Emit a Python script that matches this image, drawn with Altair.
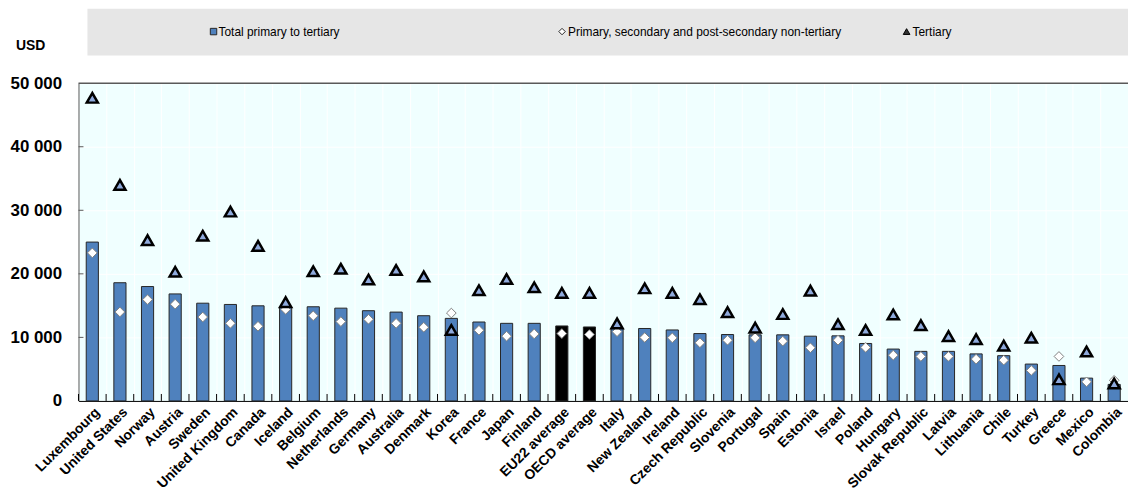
import altair as alt
import pandas as pd

countries = ["Luxembourg", "United States", "Norway", "Austria", "Sweden", "United Kingdom",
             "Canada", "Iceland", "Belgium", "Netherlands", "Germany", "Australia", "Denmark",
             "Korea", "France", "Japan", "Finland", "EU22 average", "OECD average", "Italy",
             "New Zealand", "Ireland", "Czech Republic", "Slovenia", "Portugal", "Spain",
             "Estonia", "Israel", "Poland", "Hungary", "Slovak Republic", "Latvia", "Lithuania",
             "Chile", "Turkey", "Greece", "Mexico", "Colombia"]
total = [25000, 18600, 18000, 16840, 15380, 15180, 14970, 14700, 14820, 14600, 14200, 13980,
         13410, 12990, 12420, 12210, 12210, 11800, 11640, 11400, 11400, 11170, 10600, 10450,
         10400, 10400, 10190, 10240, 9040, 8160, 7800, 7800, 7400, 7120, 5800, 5580, 3590, 2600]
non_tertiary = [23300, 14000, 15950, 15230, 13200, 12210, 11750, 14400, 13400, 12480, 12850,
                12210, 11590, 13830, 11120, 10190, 10550, 10600, 10450, 10900, 9980, 9930, 9150,
                9560, 9930, 9410, 8370, 9560, 8420, 7200, 7000, 7000, 6580, 6420, 4800, 7000,
                3000, 3250]
tertiary = [47700, 34000, 25300, 20320, 26000, 29800, 24400, 15550, 20400, 20800, 19100, 20600,
            19600, 11170, 17410, 19180, 17880, 17000, 17000, 12200, 17720, 17000, 16010, 13980,
            11540, 13670, 17360, 12060, 11170, 13600, 11930, 10200, 9720, 8700, 9950, 3400,
            7780, 2750]
highlight = ["EU22 average", "OECD average"]
y_ticks = [0, 10000, 20000, 30000, 40000, 50000]
legend_labels = ["Total primary to tertiary",
                 "Primary, secondary and post-secondary non-tertiary",
                 "Tertiary"]

FONT = "Liberation Sans, Arial, sans-serif"
BLUE = "#4F81BD"
TRI = "#8FAADC"
W, H = 1057, 320

df = pd.DataFrame({"country": countries, "total": total, "nt": non_tertiary, "t": tertiary})
df["avg"] = df["country"].isin(highlight)
one = pd.DataFrame({"k": [0]})
ticks_df = pd.DataFrame({"v": y_ticks[1:-1]})

xscale = alt.Scale(paddingInner=0, paddingOuter=0)
yscale = alt.Scale(domain=[0, 50000], nice=False)

x_axis = alt.Axis(title=None, labelAngle=-45, labelAlign="right", labelBaseline="top",
                  labelFont=FONT, labelFontSize=14, labelFontWeight="bold",
                  labelColor="black", labelPadding=4,
                  labelOverlap=False, ticks=False, tickBand="extent", grid=True,
                  gridColor="white", gridWidth=1, domainColor="black", domainWidth=1)
y_axis = alt.Axis(title=None, values=y_ticks, labelFont=FONT, labelFontSize=17,
                  labelFontWeight="bold", labelColor="black", labelPadding=17, ticks=False,
                  grid=True, gridColor="white", gridWidth=1, domainColor="#595959",
                  labelExpr="replace(format(datum.value, ','), ',', ' ')")

X = alt.X("country:N", sort=countries, scale=xscale, axis=x_axis)

bars = alt.Chart(df).mark_bar(width=alt.RelativeBandSize(0.44), stroke="#262626",
                              strokeWidth=1).encode(
    x=X,
    y=alt.Y("total:Q", scale=yscale, axis=y_axis),
    color=alt.condition("datum.avg", alt.value("black"), alt.value(BLUE)),
)
diamonds = alt.Chart(df).mark_point(shape="diamond", filled=True, fill="white",
                                    stroke="#7f7f7f", strokeWidth=1, size=95,
                                    opacity=1).encode(
    x=alt.X("country:N", sort=countries), y=alt.Y("nt:Q"))
triangles = alt.Chart(df).mark_point(shape="triangle-up", filled=True, fill=TRI,
                                     stroke="black", strokeWidth=2.5, size=125,
                                     opacity=1).encode(
    x=alt.X("country:N", sort=countries), y=alt.Y("t:Q"))

xticks = alt.Chart(df).mark_rule(color="black", strokeWidth=1).encode(
    x=alt.X("country:N", sort=countries, bandPosition=0),
    y=alt.value(H), y2=alt.value(H - 7))
yticks = alt.Chart(ticks_df).mark_rule(color="#595959", strokeWidth=1).encode(
    y=alt.Y("v:Q"), x=alt.value(0), x2=alt.value(5))
top_line = alt.Chart(one).mark_rule(color="#595959", strokeWidth=1.5).encode(
    y=alt.datum(50000), x=alt.value(0), x2=alt.value(W))

legend_bg = alt.Chart(one).mark_rect(color="#E6E6E6").encode(
    x=alt.value(9), x2=alt.value(W), y=alt.value(-75), y2=alt.value(-28))
leg_sq = alt.Chart(one).mark_point(shape="square", filled=True, fill=BLUE, stroke="#262626",
                                   strokeWidth=1, size=42, opacity=1).encode(
    x=alt.value(136), y=alt.value(-52))
leg_di = alt.Chart(one).mark_point(shape="diamond", filled=True, fill="white", stroke="#262626",
                                   strokeWidth=1, size=42, opacity=1).encode(
    x=alt.value(487), y=alt.value(-52))
leg_tr = alt.Chart(one).mark_point(shape="triangle-up", filled=True, fill="#333333",
                                   stroke="black", strokeWidth=1, size=45, opacity=1).encode(
    x=alt.value(834), y=alt.value(-52))
text_kw = dict(font=FONT, fontSize=12, color="black", align="left", baseline="middle")
leg_t1 = alt.Chart(one).mark_text(text=legend_labels[0], **text_kw).encode(
    x=alt.value(141), y=alt.value(-52))
leg_t2 = alt.Chart(one).mark_text(text=legend_labels[1], **text_kw).encode(
    x=alt.value(493), y=alt.value(-52))
leg_t3 = alt.Chart(one).mark_text(text=legend_labels[2], **text_kw).encode(
    x=alt.value(840), y=alt.value(-52))
usd = alt.Chart(one).mark_text(text="USD", font=FONT, fontSize=14, fontWeight="bold",
                               color="black", align="left", baseline="middle").encode(
    x=alt.value(-63), y=alt.value(-37))

chart = alt.layer(
    bars, diamonds, triangles, xticks, yticks, top_line,
    legend_bg, leg_sq, leg_di, leg_tr, leg_t1, leg_t2, leg_t3, usd
).properties(
    width=W, height=H,
    autosize=alt.AutoSizeParams(type="none"),
    padding={"left": 71, "top": 74, "right": 0, "bottom": 92},
).configure_view(fill="#F0FFFF", stroke=None)

chart.save("out.html", embed_options={"renderer": "svg", "actions": False})
